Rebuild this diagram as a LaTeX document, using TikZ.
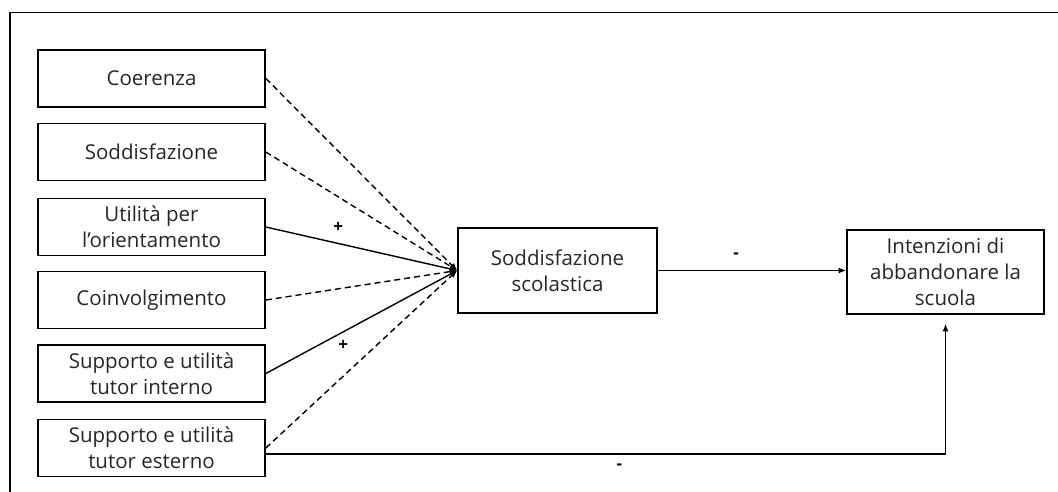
\documentclass[tikz,border=0pt]{standalone}
\usepackage{fontspec}
\setmainfont{Open Sans}
\usetikzlibrary{arrows.meta,calc}
\begin{document}
\begin{tikzpicture}[x=1pt,y=-1pt,
  box/.style={draw, line width=1.6pt, minimum width=227pt, minimum height=57pt,
    align=center, inner sep=2pt, text=black!85, font=\fontsize{20.5}{26}\selectfont},
  conn/.style={line width=1.4pt, -{Latex[length=7.5pt,width=6pt]}},
  dconn/.style={conn, dash pattern=on 6pt off 4pt},
  sign/.style={font=\fontsize{17}{17}\selectfont\bfseries, inner sep=0pt}]
\useasboundingbox (0,0) rectangle (1058,492);
\draw[line width=1.8pt] (10,492) -- (10,12.5) -- (1058,12.5);
\node[box] (coe) at (151.5,78.5) {Coerenza};
\node[box] (sod) at (151.5,152) {Soddisfazione};
\node[box] (uti) at (151.5,227) {Utilità per\\l’orientamento};
\node[box] (coi) at (151.5,300) {Coinvolgimento};
\node[box] (tin) at (151.5,373.5) {Supporto e utilità\\tutor interno};
\node[box] (tes) at (151.5,448) {Supporto e utilità\\tutor esterno};
\node[box, minimum width=199pt, minimum height=85pt] (ss) at (557.5,270.5) {Soddisfazione\\scolastica};
\node[box, minimum width=197pt, minimum height=84pt] (int) at (945.5,272) {Intenzioni di\\abbandonare la\\scuola};
\draw[dconn] (coe.east) -- (ss.west);
\draw[dconn] (sod.east) -- (ss.west);
\draw[conn] (uti.east) -- node[sign, pos=0.378, yshift=16pt] {+} (ss.west);
\draw[dconn] (coi.east) -- (ss.west);
\draw[conn] (tin.east) -- node[sign, pos=0.404, yshift=-14pt] {+} (ss.west);
\draw[dconn] (tes.east) -- (ss.west);
\draw[conn] (ss.east) -- node[sign, pos=0.416, yshift=15pt] {-} (ss.east -| int.west);
\draw[conn] ([yshift=-6pt]tes.east) -| node[sign, pos=0.26, yshift=-13pt] {-} ([yshift=-9pt]int.south);
\end{tikzpicture}
\end{document}
